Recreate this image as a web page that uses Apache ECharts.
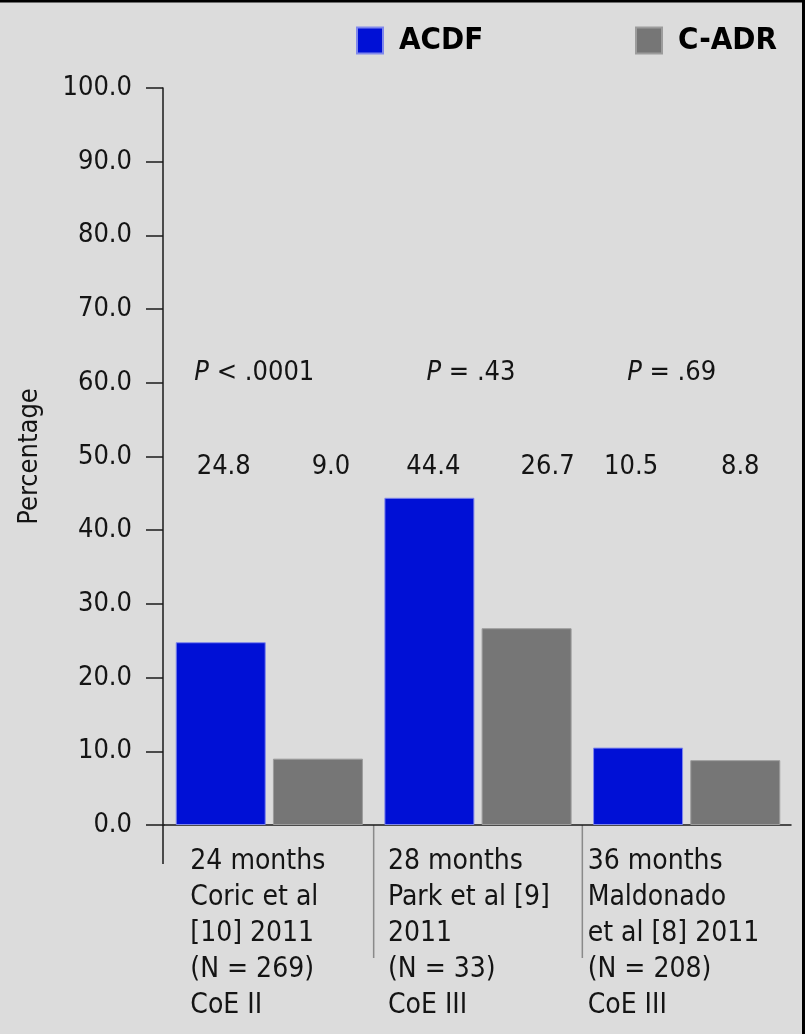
<!DOCTYPE html>
<html><head><meta charset="utf-8">
<script src="https://cdn.jsdelivr.net/npm/echarts@6/dist/echarts.min.js"></script>
<style>html,body{margin:0;padding:0;background:#dcdcdc}#c{width:805px;height:1034px}</style>
</head><body><div id="c"></div>
<script>
// ---- data ----
const categories = [
  '24 months\nCoric et al\n[10] 2011\n(N = 269)\nCoE II',
  '28 months\nPark et al [9]\n2011\n(N = 33)\nCoE III',
  '36 months\nMaldonado\net al [8] 2011\n(N = 208)\nCoE III'
];
const seriesNames = ['ACDF', 'C-ADR'];
const acdf = [24.8, 44.4, 10.5];
const cadr = [9.0, 26.7, 8.8];
const pLabels = ['< .0001', '= .43', '= .69'];
const yMin = 0, yMax = 100, yInterval = 10;

// ---- layout constants ----
const FONT = '"Liberation Sans Narrow","DejaVu Sans Condensed","Roboto Condensed",sans-serif';
const TXT = '#141414';
const FS = 27;
const valueRow = 48.6;   // axis units where value labels sit
const pRow = 61.3;       // axis units where p labels sit
const valDx = [[3, 4, -7], [13, 21, 5]];
const pDx = [-15, -7, -15];
const catDx = [-79, -90, -99];
const GRID_LEFT = 165, AX_OFF = 2;

const chart = echarts.init(document.getElementById('c'), null, {renderer: 'canvas'});
const axisLine = {color: '#1a1a1a', width: 1.5};

function seriesData(vals, si, rowY) {
  return vals.map((v, i) => {
    const d = {value: v};
    if (rowY != null) {
      const yTop = chart.convertToPixel({yAxisIndex: 0}, v);
      d.label = {offset: [valDx[si][i], rowY - yTop]};
    }
    return d;
  });
}

function build(rowY) {
  const labelCfg = {
    show: rowY != null, position: 'top', distance: 0, verticalAlign: 'middle', align: 'center',
    fontFamily: FONT, fontSize: FS, color: TXT,
    formatter: p => Number(p.value).toFixed(1)
  };
  const legendText = {fontFamily: FONT, fontWeight: 'bold', fontSize: 31, color: '#000', padding: [0, 0, 0, 11]};
  return {
    backgroundColor: '#dcdcdc',
    animation: false,
    grid: {left: GRID_LEFT, right: 14, top: 88, bottom: 209},
    legend: [
      {data: [seriesNames[0]], left: 351, top: 20, padding: 5, itemWidth: 26, itemHeight: 26, icon: 'rect', textStyle: legendText},
      {data: [seriesNames[1]], left: 630, top: 20, padding: 5, itemWidth: 26, itemHeight: 26, icon: 'rect', textStyle: legendText}
    ],
    xAxis: {
      type: 'category', data: categories,
      axisLine: {lineStyle: axisLine}, axisTick: {show: false}, axisLabel: {show: false}
    },
    yAxis: {
      type: 'value', min: yMin, max: yMax, interval: yInterval, offset: AX_OFF,
      name: 'Percentage', nameLocation: 'middle', nameGap: 120, nameRotate: 90,
      nameTextStyle: {fontFamily: FONT, fontSize: FS, color: TXT},
      axisLine: {show: true, lineStyle: axisLine},
      axisTick: {show: true, length: 17, lineStyle: axisLine},
      axisLabel: {fontFamily: FONT, fontSize: FS, color: TXT, margin: 31, formatter: v => v.toFixed(1)},
      splitLine: {show: false}
    },
    series: [
      {type: 'bar', name: seriesNames[0], data: seriesData(acdf, 0, rowY), barWidth: 90, barGap: '8%',
       itemStyle: {color: '#0010d6', borderColor: '#8088ec', borderWidth: 1}, label: labelCfg},
      {type: 'bar', name: seriesNames[1], data: seriesData(cadr, 1, rowY), barWidth: 90, barGap: '8%',
       itemStyle: {color: '#767676', borderColor: '#9c9c9c', borderWidth: 1}, label: labelCfg}
    ]
  };
}

chart.setOption(build(null));
const rowY = chart.convertToPixel({yAxisIndex: 0}, valueRow);
chart.setOption(build(rowY));

// extra decorations placed from the library's scales
const y0 = chart.convertToPixel({yAxisIndex: 0}, yMin);
const pY = chart.convertToPixel({yAxisIndex: 0}, pRow);
const centers = categories.map((c, i) => chart.convertToPixel({xAxisIndex: 0}, i));
const gridX = centers[0] - (centers[1] - centers[0]) / 2;
const axisX = gridX - AX_OFF;
const graphics = [];
graphics.push({type: 'line', shape: {x1: axisX, y1: y0, x2: axisX, y2: y0 + 39}, style: {stroke: '#1a1a1a', lineWidth: 1.5}});
graphics.push({type: 'line', shape: {x1: axisX, y1: y0, x2: gridX, y2: y0}, style: {stroke: '#1a1a1a', lineWidth: 1.5}});
for (let i = 0; i < centers.length - 1; i++) {
  const bx = (centers[i] + centers[i + 1]) / 2;
  graphics.push({type: 'line', shape: {x1: bx, y1: y0, x2: bx, y2: y0 + 133}, style: {stroke: '#8a8a8a', lineWidth: 1.5}});
}
categories.forEach((c, i) => {
  graphics.push({type: 'text', x: centers[i] + catDx[i], y: y0 + 19,
    style: {text: c, fontFamily: FONT, fontSize: 28, lineHeight: 36, fill: TXT, align: 'left', verticalAlign: 'top'}});
  graphics.push({type: 'text', x: centers[i] + pDx[i], y: pY,
    style: {text: '{i|P} ' + pLabels[i], fontFamily: FONT, fontSize: FS, fill: TXT, align: 'center', verticalAlign: 'middle',
      rich: {i: {fontStyle: 'italic', fontFamily: FONT, fontSize: FS, fill: TXT}}}});
});
// frame: top and right edges
graphics.push({type: 'line', shape: {x1: 0, y1: 1, x2: 805, y2: 1}, style: {stroke: '#000', lineWidth: 3}, silent: true});
graphics.push({type: 'line', shape: {x1: 803.5, y1: 0, x2: 803.5, y2: 1034}, style: {stroke: '#000', lineWidth: 3}, silent: true});
chart.setOption({graphic: graphics});
</script>
</body></html>
